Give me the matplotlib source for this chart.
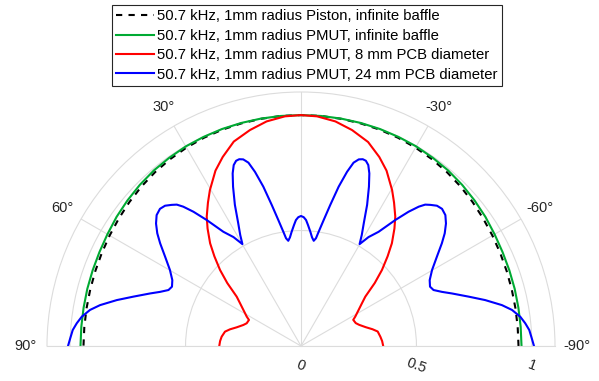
import numpy as np
import matplotlib
matplotlib.use("Agg")
import matplotlib.pyplot as plt
from matplotlib.transforms import offset_copy

plt.rcParams['font.family'] = ['Liberation Sans', 'DejaVu Sans']

# ---------------- data ----------------
SERIES_LABELS = [
    "50.7 kHz, 1mm radius Piston, infinite baffle",
    "50.7 kHz, 1mm radius PMUT, infinite baffle",
    "50.7 kHz, 1mm radius PMUT, 8 mm PCB diameter",
    "50.7 kHz, 1mm radius PMUT, 24 mm PCB diameter",
]

PISTON_THETA = [-90, -85, -80, -75, -70, -65, -60, -55, -50, -45, -40, -35, -30, -25, -20, -15, -10, -5,
                0, 5, 10, 15, 20, 25, 30, 35, 40, 45, 50, 55, 60, 65, 70, 75, 80, 85, 90]
PISTON_R = [0.942, 0.942, 0.943, 0.945, 0.948, 0.952, 0.957, 0.963, 0.970, 0.977, 0.983, 0.988, 0.992,
            0.995, 0.997, 0.998, 0.999, 1.000,
            1.000, 1.000, 0.999, 0.998, 0.997, 0.995, 0.992, 0.988, 0.983, 0.977, 0.970, 0.963, 0.957,
            0.952, 0.948, 0.945, 0.943, 0.942, 0.942]

PMUT_THETA = [-90, -85, -80, -75, -70, -65, -60, -55, -50, -45, -40, -35, -30, -25, -20, -15, -10, -5,
              0, 5, 10, 15, 20, 25, 30, 35, 40, 45, 50, 55, 60, 65, 70, 75, 80, 85, 90]
PMUT_R = [0.955, 0.955, 0.956, 0.958, 0.960, 0.963, 0.968, 0.975, 0.981, 0.987, 0.992, 0.995, 0.998,
          0.999, 1.000, 1.000, 1.000, 1.000,
          1.000, 1.000, 1.000, 1.000, 1.000, 0.999, 0.998, 0.995, 0.992, 0.987, 0.981, 0.975, 0.968,
          0.963, 0.960, 0.958, 0.956, 0.955, 0.955]

PCB8_THETA = [-90, -86.5, -83.3, -79.3, -76.8, -73.8, -70, -67.3, -63.4, -61.6, -58, -55, -52.5, -49.5,
              -46.8, -44, -41.5, -38.5, -36.1, -33, -30.3, -26, -22.5, -18.2, -13.3, -8.7, -4,
              0, 4, 8.7, 13.3, 18.2, 22.5, 26, 30.3, 33, 36.1, 38.5, 41.5, 44, 46.8, 49.5, 52.5,
              55, 58, 61.6, 63.4, 67.3, 70, 73.8, 76.8, 79.3, 83.3, 86.5, 90]
PCB8_R = [0.356, 0.352, 0.346, 0.338, 0.318, 0.292, 0.268, 0.257, 0.253, 0.267, 0.294, 0.322, 0.351,
          0.420, 0.481, 0.540, 0.594, 0.650, 0.693, 0.740, 0.782, 0.845, 0.886, 0.930, 0.961, 0.984, 0.997,
          1.000, 0.997, 0.984, 0.961, 0.932, 0.886, 0.845, 0.782, 0.740, 0.693, 0.650, 0.594, 0.540,
          0.481, 0.420, 0.351, 0.322, 0.294, 0.267, 0.252, 0.255, 0.266, 0.290, 0.316, 0.335, 0.346,
          0.351, 0.354]

PCB24_THETA = [-90, -88.1, -86.0, -84.2, -82.4, -80.3, -78.5, -76.0, -73.6, -70.8, -69.0, -67.1, -65.3,
               -62.9, -59.9, -56.7, -53.9, -51.9, -49.8, -47.8, -45.8, -44.1, -42.5, -41.3, -40.2, -38.7,
               -36.8, -34.2, -31.8, -29.9, -28.7, -27.0, -25.1, -23.1, -21.6, -20.4, -19.3, -18.3, -17.2,
               -16.0, -14.8, -13.3, -11.7, -10.2, -8.8, -7.9, -6.9, -5.8, -4.7, -3.3, -2.3, -1.2,
               0,
               1.2, 2.3, 3.3, 4.7, 5.8, 6.9, 7.9, 8.8, 10.2, 11.7, 13.3, 14.8, 16.0, 17.2, 18.3, 19.3,
               20.4, 21.6, 23.1, 25.1, 27.0, 28.7, 29.9, 31.8, 34.2, 36.8, 38.7, 40.2, 41.3, 42.5, 44.1,
               45.8, 47.8, 49.8, 51.9, 53.9, 56.7, 59.9, 62.9, 65.3, 67.1, 69.0, 70.8, 73.6, 76.0, 78.5,
               80.3, 82.4, 84.2, 86.0, 88.1, 90]
PCB24_R = [1.009, 1.000, 0.991, 0.976, 0.958, 0.927, 0.888, 0.822, 0.757, 0.692, 0.654, 0.623, 0.615,
           0.626, 0.656, 0.704, 0.755, 0.791, 0.822, 0.844, 0.852, 0.846, 0.829, 0.815, 0.790, 0.745,
           0.681, 0.598, 0.555, 0.509, 0.548, 0.600, 0.675, 0.750, 0.804, 0.836, 0.850, 0.852, 0.846,
           0.826, 0.780, 0.709, 0.623, 0.554, 0.501, 0.471, 0.459, 0.473, 0.496, 0.525, 0.546, 0.558,
           0.563,
           0.558, 0.546, 0.525, 0.496, 0.473, 0.459, 0.471, 0.501, 0.554, 0.623, 0.709, 0.780, 0.826,
           0.846, 0.852, 0.850, 0.836, 0.804, 0.750, 0.675, 0.600, 0.548, 0.509, 0.555, 0.598, 0.681,
           0.745, 0.790, 0.815, 0.829, 0.846, 0.852, 0.844, 0.822, 0.791, 0.755, 0.704, 0.656, 0.626,
           0.615, 0.623, 0.654, 0.692, 0.757, 0.822, 0.888, 0.927, 0.958, 0.976, 0.991, 1.000, 1.009]

THETA_TICKS = [-90, -60, -30, 0, 30, 60, 90]
THETA_TICK_LABELS = ["-90°", "-60°", "-30°", "", "30°", "60°", "90°"]
R_TICKS = [0, 0.5, 1]
R_TICK_LABELS = ["0", "0.5", "1"]
R_MAX = 1.1

# ---------------- figure ----------------
GRID = "#dcdcdc"
TXT = "#262626"

W, H = 599, 381
fig = plt.figure(figsize=(W / 100, H / 100), dpi=100)
# square box; the half disc is centred vertically inside it
ax = fig.add_axes([47 / W, (H - 473) / H, 508 / W, 508 / H], projection='polar')
ax.set_theta_zero_location('N')
ax.set_theta_direction(1)
ax.set_thetamin(-90)
ax.set_thetamax(90)
ax.set_rlim(0, R_MAX)

series = [
    (PISTON_THETA, PISTON_R, dict(color='black', lw=1.5, linestyle=(0, (3, 3)))),
    (PMUT_THETA, PMUT_R, dict(color='#00aa33', lw=1.5)),
    (PCB8_THETA, PCB8_R, dict(color='#ff0000', lw=1.5)),
    (PCB24_THETA, PCB24_R, dict(color='#0000ff', lw=1.5)),
]
for (th, r, st), lab in zip(series, SERIES_LABELS):
    ax.plot(np.deg2rad(th), r, label=lab, **st)

ax.set_thetagrids(THETA_TICKS, labels=THETA_TICK_LABELS)
ax.set_rgrids([t for t in R_TICKS if t > 0], labels=[""] * (len(R_TICKS) - 1))
ax.grid(True, color=GRID, lw=0.8)
ax.tick_params(axis='x', colors=TXT, labelsize=10.5, pad=5)
ax.tick_params(axis='y', length=0)
for name in ('polar', 'start', 'end'):
    ax.spines[name].set_color(GRID)
    ax.spines[name].set_linewidth(0.8)
if 'inner' in ax.spines:
    ax.spines['inner'].set_visible(False)

for r, lab in zip(R_TICKS, R_TICK_LABELS):
    tr = offset_copy(ax.transData, fig=fig, x=0, y=-20, units='dots')
    ax.text(np.deg2rad(-90), r, lab, transform=tr, rotation=-20, ha='center', va='center',
            fontsize=10.5, color=TXT)

leg = fig.legend(loc='upper center', bbox_to_anchor=(307 / W, 1 - 5 / H), ncol=1,
                 fontsize=10.75, frameon=True, fancybox=False, framealpha=1, edgecolor='#262626',
                 handlelength=2.55, handletextpad=0.2, borderpad=0.3, labelspacing=0.36,
                 borderaxespad=0)
leg.get_frame().set_linewidth(0.8)

fig.savefig("out.png", dpi=100)
